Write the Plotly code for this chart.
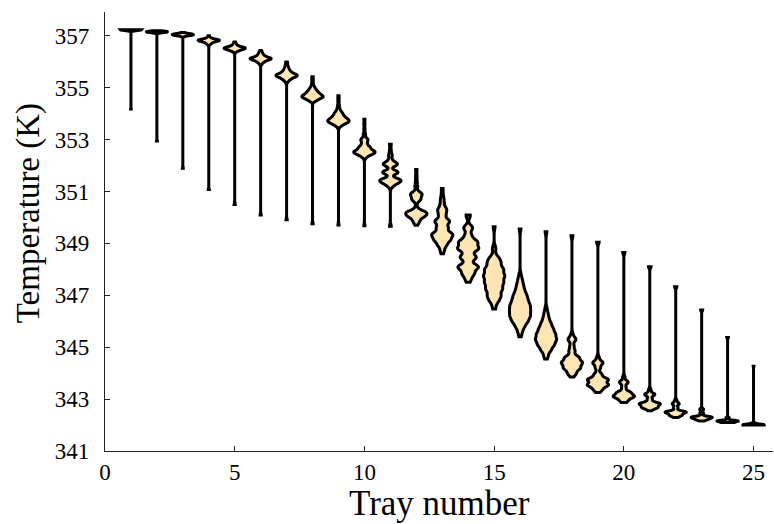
import numpy as np
import plotly.graph_objects as go

# Tray positions along the column
trays = list(range(1, 26))

# Temperature samples per tray as (temperature in K, number of samples)
tray01 = [(357.24, 30), (357.22, 5), (354.18, 1)]
tray02 = [(357.20, 1), (357.16, 20), (357.13, 4), (352.95, 1)]
tray03 = [(357.13, 1), (357.09, 3), (357.05, 20), (357.01, 5), (351.90, 1)]
tray04 = [(357.00, 1), (356.93, 2), (356.85, 12), (356.80, 10), (356.72, 4), (356.66, 1), (351.08, 1)]
tray05 = [(356.76, 1), (356.68, 2), (356.60, 4), (356.53, 14), (356.46, 6), (356.40, 2), (350.50, 1)]
tray06 = [(356.44, 1), (356.36, 2), (356.28, 3), (356.20, 5), (356.12, 16), (356.02, 6), (355.92, 2), (350.10, 1)]
tray07 = [(355.99, 1), (355.90, 1), (355.80, 2), (355.70, 3), (355.60, 5), (355.50, 10), (355.44, 8),
          (355.35, 5), (355.25, 2), (349.91, 1)]
tray08 = [(355.42, 1), (355.30, 1), (355.18, 1), (355.06, 2), (354.95, 4), (354.85, 6), (354.75, 9),
          (354.65, 14), (354.55, 6), (354.48, 2), (349.76, 1)]
tray09 = [(354.69, 1), (354.55, 1), (354.40, 1), (354.25, 2), (354.10, 3), (354.00, 5), (353.90, 6),
          (353.80, 10), (353.70, 14), (353.60, 6), (353.52, 2), (349.71, 1)]
tray10 = [(353.79, 1), (353.60, 1), (353.40, 1), (353.20, 2), (353.00, 6), (352.85, 4), (352.70, 9),
          (352.55, 14), (352.45, 10), (352.33, 3), (349.68, 1)]
tray11 = [(352.82, 1), (352.60, 1), (352.40, 2), (352.20, 2), (352.05, 8), (351.74, 9), (351.45, 10),
          (351.33, 6), (351.20, 2), (349.66, 1)]
tray12 = [(351.85, 1), (351.60, 1), (351.40, 1), (351.20, 2), (350.90, 8), (350.70, 6), (350.43, 1),
          (350.20, 12), (350.05, 10), (349.85, 4), (349.70, 1)]
tray13 = [(351.12, 1), (350.90, 1), (350.70, 2), (350.50, 2), (350.30, 5), (350.10, 4), (349.85, 9),
          (349.60, 7), (349.35, 12), (349.15, 9), (348.95, 5), (348.75, 2), (348.60, 1)]
tray14 = [(350.10, 1), (350.05, 1), (349.60, 4), (349.30, 3), (349.05, 8), (348.80, 9), (348.50, 5),
          (348.40, 3), (348.10, 9), (347.85, 5), (347.65, 2), (347.50, 1)]
tray15 = [(349.64, 1), (348.85, 1), (348.75, 1), (348.45, 4), (348.25, 6), (348.00, 9), (347.75, 10),
          (347.50, 9), (347.25, 8), (347.00, 6), (346.80, 4), (346.60, 1), (346.47, 1)]
tray16 = [(349.56, 1), (347.80, 1), (347.60, 2), (347.40, 3), (347.20, 4), (347.00, 6), (346.80, 7),
          (346.60, 9), (346.40, 9), (346.20, 9), (346.00, 7), (345.80, 4), (345.60, 2), (345.40, 1)]
tray17 = [(349.45, 1), (346.50, 1), (346.30, 2), (346.10, 3), (345.90, 5), (345.70, 7), (345.50, 9),
          (345.30, 10), (345.10, 8), (344.90, 5), (344.70, 2), (344.55, 1)]
tray18 = [(349.30, 1), (345.50, 1), (345.30, 4), (345.05, 2), (344.85, 3), (344.60, 7), (344.40, 10),
          (344.20, 8), (344.00, 4), (343.85, 1)]
tray19 = [(349.05, 1), (344.60, 1), (344.40, 4), (344.20, 2), (343.95, 3), (343.75, 8), (343.55, 8),
          (343.38, 3), (343.25, 1)]
tray20 = [(348.65, 1), (343.85, 1), (343.65, 4), (343.45, 2), (343.25, 6), (343.10, 9), (342.95, 3),
          (342.87, 1)]
tray21 = [(348.10, 1), (343.35, 1), (343.18, 4), (343.00, 2), (342.82, 8), (342.68, 6), (342.55, 1)]
tray22 = [(347.33, 1), (342.95, 1), (342.82, 3), (342.67, 2), (342.50, 9), (342.38, 5), (342.29, 1)]
tray23 = [(346.43, 1), (342.60, 2), (342.45, 2), (342.30, 10), (342.22, 5), (342.16, 1)]
tray24 = [(345.37, 1), (342.28, 2), (342.16, 12), (342.10, 6)]
tray25 = [(344.27, 1), (342.10, 1), (342.04, 6), (342.00, 25)]

tray_tables = [tray01, tray02, tray03, tray04, tray05, tray06, tray07, tray08, tray09, tray10,
               tray11, tray12, tray13, tray14, tray15, tray16, tray17, tray18, tray19, tray20,
               tray21, tray22, tray23, tray24, tray25]

# Kernel bandwidth (K) for each tray's density estimate
kde_bandwidth = [0.03, 0.03, 0.035, 0.04, 0.045, 0.05, 0.06, 0.06, 0.07, 0.07,
                 0.08, 0.09, 0.10, 0.11, 0.115, 0.11, 0.10, 0.09, 0.08, 0.07,
                 0.06, 0.05, 0.04, 0.03, 0.03]

x_ticks = [0, 5, 10, 15, 20, 25]
y_ticks = [341, 343, 345, 347, 349, 351, 353, 355, 357]

FONT = "Liberation Serif, 'DejaVu Serif', serif"
FILL = "#FFE5B4"

fig = go.Figure()
for tray, table, bw in zip(trays, tray_tables, kde_bandwidth):
    temps = np.array([t for t, _ in table])
    counts = np.array([c for _, c in table])
    samples = np.repeat(temps, counts)
    fig.add_trace(go.Violin(
        x=[tray] * len(samples),
        y=samples,
        width=0.82,
        bandwidth=bw,
        spanmode="hard",
        points=False,
        fillcolor=FILL,
        line=dict(color="black", width=3),
        box_visible=False,
        meanline_visible=False,
        showlegend=False,
        hoverinfo="skip",
    ))

axis_common = dict(
    showline=True, linecolor="#222222", linewidth=1.2,
    ticks="inside", ticklen=5, tickwidth=1, tickcolor="#222222",
    showgrid=False, zeroline=False, mirror=False,
    tickfont=dict(family=FONT, size=23, color="black"),
)

fig.update_layout(
    width=774, height=524,
    margin=dict(l=105, r=1, t=12, b=73),
    paper_bgcolor="white", plot_bgcolor="white",
    font=dict(family=FONT, color="black"),
    xaxis=dict(range=[0, 25.75], tickvals=x_ticks, ticktext=[str(v) for v in x_ticks],
               ticklabelstandoff=0, **axis_common),
    yaxis=dict(range=[341, 357.92], tickvals=y_ticks, ticktext=[str(v) for v in y_ticks],
               ticklabelstandoff=10, **axis_common),
    annotations=[
        dict(text="Temperature (K)", textangle=-90, showarrow=False,
             xref="paper", yref="paper", x=-0.115, y=0.542,
             xanchor="center", yanchor="middle",
             font=dict(family=FONT, size=33, color="black")),
        dict(text="Tray number", showarrow=False,
             xref="paper", yref="paper", x=0.5, y=-0.12,
             xanchor="center", yanchor="middle",
             font=dict(family=FONT, size=35, color="black")),
    ],
)

fig.write_html("out.html")
